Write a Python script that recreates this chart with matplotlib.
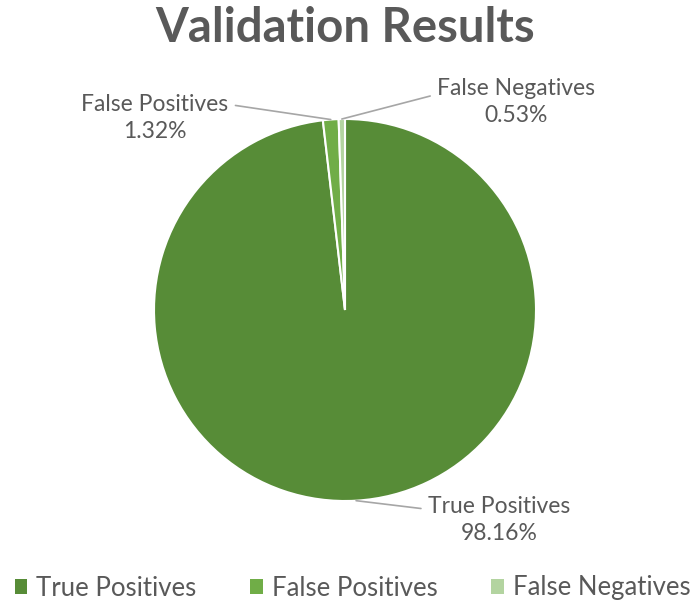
import numpy as np
import matplotlib.pyplot as plt
from matplotlib.patches import Patch

labels = ['True Positives', 'False Positives', 'False Negatives']
values = [98.16, 1.32, 0.53]
colors = ['#578C37', '#70AD47', '#B3D4A0']
# label box centres in figure pixels (from bottom-left)
label_pos = [(499, 86), (155, 488), (516, 504)]
line_attach = [(0.0, 0.72), (1.0, 0.78), (0.0, 0.66)]

plt.rcParams['font.family'] = ['Lato', 'DejaVu Sans']
gray = '#595959'

fig = plt.figure(figsize=(6.94, 6.06), dpi=100)
ax = fig.add_axes([154 / 694, 105 / 606, 382 / 694, 382 / 606])

wedges, _ = ax.pie(values, colors=colors, startangle=90, counterclock=False,
                   radius=1, wedgeprops=dict(edgecolor='white', linewidth=1.5))
ax.set_xlim(-1, 1)
ax.set_ylim(-1, 1)
ax.set_aspect('auto')
ax.axis('off')

for w, lab, v, pos, rp in zip(wedges, labels, values, label_pos, line_attach):
    ang = np.deg2rad((w.theta1 + w.theta2) / 2)
    x, y = np.cos(ang), np.sin(ang)
    ax.annotate(f'{lab}\n{v:.2f}%', xy=(x, y), xytext=pos,
                textcoords='figure pixels', ha='center', va='center',
                fontsize=16.5, color=gray, linespacing=1.38,
                arrowprops=dict(arrowstyle='-', color='#A6A6A6', lw=1.2,
                                relpos=rp, shrinkA=3, shrinkB=0))

fig.text(0.497, 0.953, 'Validation Results', ha='center', va='center',
         fontsize=34, fontweight='bold', color=gray)

handles = [Patch(facecolor=c, edgecolor='none') for c in colors]
fig.legend(handles, labels, loc='center', bbox_to_anchor=(0.508, 18 / 606),
           ncol=3, frameon=False, fontsize=18.5, labelcolor=gray,
           handlelength=0.48, handleheight=0.48, handletextpad=0.35,
           columnspacing=2.1, borderpad=0, borderaxespad=0)

fig.savefig('out.png', dpi=100)
